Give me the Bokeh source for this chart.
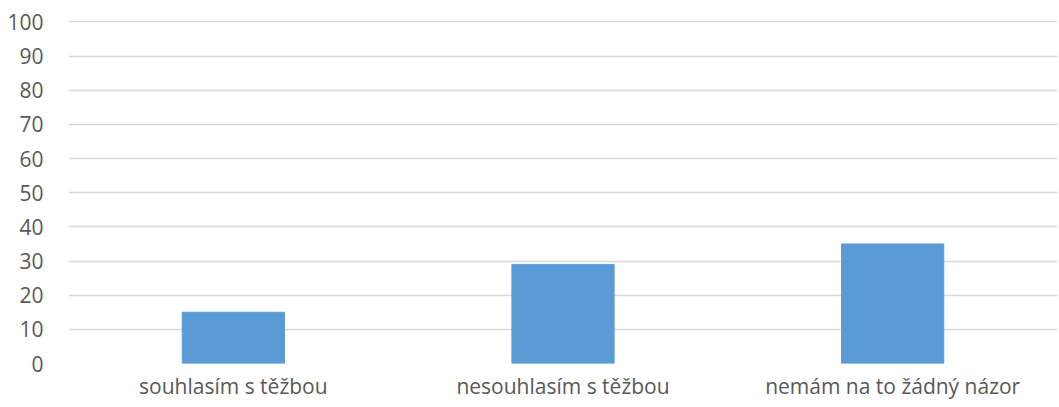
from bokeh.plotting import figure
from bokeh.models import ColumnDataSource, FactorRange, Range1d, FixedTicker
from bokeh.embed import file_html
from bokeh.resources import INLINE

categories = ["souhlasím s těžbou", "nesouhlasím s těžbou", "nemám na to žádný názor"]
values = [15, 29, 35]
y_ticks = [0, 10, 20, 30, 40, 50, 60, 70, 80, 90, 100]

FONT = "Open Sans"
TXT = "#595959"

src = ColumnDataSource(dict(cat=categories, val=values))

p = figure(width=1059, height=407, output_backend="svg", toolbar_location=None,
           x_range=FactorRange(*categories), y_range=Range1d(0, 100.4),
           min_border_left=68, min_border_right=2, min_border_top=20, min_border_bottom=44)
p.outline_line_color = None
p.vbar(x="cat", top="val", width=0.31, source=src, fill_color="#5b9bd5", line_color="#5b9bd5")

p.yaxis.ticker = FixedTicker(ticks=y_ticks)
p.yaxis.axis_line_color = None
p.yaxis.major_tick_line_color = None
p.yaxis.minor_tick_line_color = None
p.yaxis.major_label_text_font = FONT
p.yaxis.major_label_text_font_size = "21px"
p.yaxis.major_label_text_color = TXT
p.yaxis.major_label_standoff = 19

p.xaxis.axis_line_color = None
p.xaxis.major_tick_line_color = None
p.xaxis.major_label_text_font = FONT
p.xaxis.major_label_text_font_size = "21px"
p.xaxis.major_label_text_color = TXT
p.xaxis.major_label_standoff = 2

p.xgrid.grid_line_color = None
p.ygrid.grid_line_color = "#d9d9d9"
p.ygrid.grid_line_width = 1.3

open("out.html", "w").write(file_html(p, INLINE))
